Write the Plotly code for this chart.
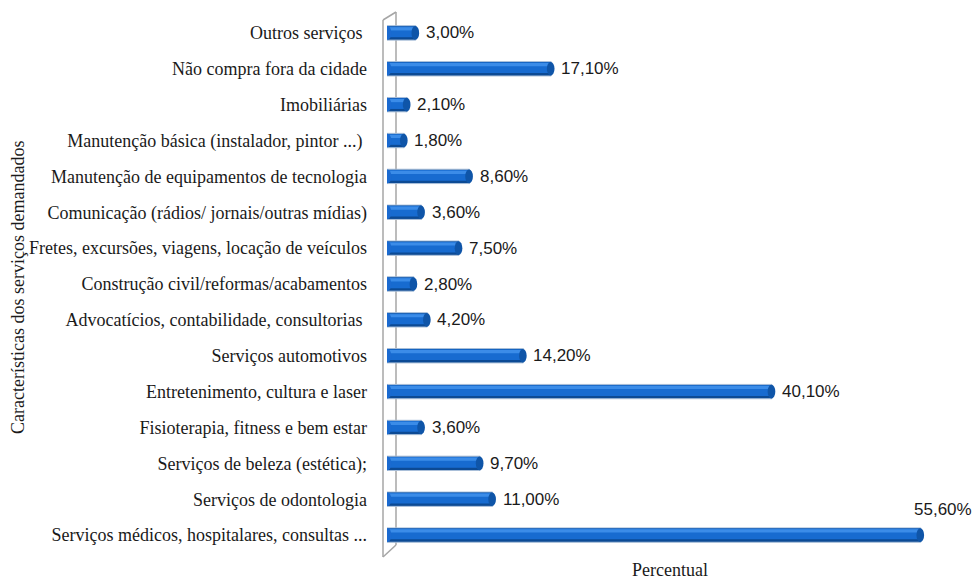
import plotly.graph_objects as go

# Service categories (bottom to top) and their share of respondents (%)
categorias = [
    "Serviços médicos, hospitalares, consultas ...",
    "Serviços de odontologia",
    "Serviços de beleza (estética);",
    "Fisioterapia, fitness e bem estar",
    "Entretenimento, cultura e laser",
    "Serviços automotivos",
    "Advocatícios, contabilidade, consultorias\u00a0",
    "Construção civil/reformas/acabamentos",
    "Fretes, excursões, viagens, locação de veículos",
    "Comunicação (rádios/ jornais/outras mídias)",
    "Manutenção de equipamentos de tecnologia",
    "Manutenção básica (instalador, pintor ...)\u00a0",
    "Imobiliárias",
    "Não compra fora da cidade",
    "Outros serviços\u00a0",
]
percentuais = [55.6, 11.0, 9.7, 3.6, 40.1, 14.2, 4.2, 2.8, 7.5, 3.6, 8.6, 1.8, 2.1, 17.1, 3.0]
rotulos = [f"{v:.2f}".replace(".", ",") + "%" for v in percentuais]

SERIF = "'Liberation Serif', 'Times New Roman', serif"
SANS = "'Liberation Sans', Arial, sans-serif"

W, H = 975, 579
ML, MR, MT, MB = 387, 0, 15, 26
pw, ph = W - ML - MR, H - MT - MB
x_max = pw / 9.6  # about 9.6 px per percentage point

ypos = list(range(len(categorias)))
fig = go.Figure()

# cylinder-like bar: dark base, main body, light highlight
camadas = [
    (0.40, -0.20, "#0c4a94", dict(color="#a9bfd9", width=1)),
    (0.30, -0.12, "#176bd0", dict(width=0)),
    (0.09, 0.07, "#3b8ce8", dict(width=0)),
]
for largura, desloc, cor, linha in camadas:
    fig.add_trace(go.Bar(
        x=percentuais, y=ypos, orientation="h", width=largura, offset=desloc,
        marker=dict(color=cor, line=linha), hoverinfo="skip", showlegend=False,
    ))

# rounded caps at bar ends
shapes = []
for v, y in zip(percentuais, ypos):
    shapes.append(dict(type="circle", xref="x", yref="y",
                       x0=v - 0.45, x1=v + 0.35, y0=y - 0.19, y1=y + 0.19,
                       fillcolor="#0f55a8", line=dict(width=0), layer="above"))
    shapes.append(dict(type="circle", xref="x", yref="y",
                       x0=-0.35, x1=0.45, y0=y - 0.19, y1=y + 0.19,
                       fillcolor="#1a6ad0", line=dict(width=0), layer="above"))


def px_x(p):
    return (p - ML) / pw


def px_y(p):
    return (H - MB - p) / ph


# 3D side wall of the category axis
cinza = dict(color="#a6a6a6", width=1.5)
for (x0, y0, x1, y1) in [(383, 20, 383, 557), (396, 12, 396, 545),
                         (383, 20, 396, 12), (383, 557, 396, 545)]:
    shapes.append(dict(type="line", xref="paper", yref="paper",
                       x0=px_x(x0), y0=px_y(y0), x1=px_x(x1), y1=px_y(y1),
                       line=cinza, layer="below"))

annotations = []
for v, y, t in zip(percentuais, ypos, rotulos):
    if v > 50:
        annotations.append(dict(x=v, y=y, xref="x", yref="y", text=t, showarrow=False,
                                xanchor="left", xshift=-9, yshift=26,
                                font=dict(family=SANS, size=17, color="#1a1a1a")))
    else:
        annotations.append(dict(x=v, y=y, xref="x", yref="y", text=t, showarrow=False,
                                xanchor="left", xshift=8,
                                font=dict(family=SANS, size=17, color="#1a1a1a")))

annotations.append(dict(x=px_x(670), y=px_y(570), xref="paper", yref="paper",
                        text="Percentual", showarrow=False,
                        xanchor="center", yanchor="middle",
                        font=dict(family=SERIF, size=18, color="#1a1a1a")))
annotations.append(dict(x=px_x(18), y=px_y(288), xref="paper", yref="paper",
                        text="Características dos serviços demandados", showarrow=False,
                        textangle=-90, xanchor="center", yanchor="middle",
                        font=dict(family=SERIF, size=18, color="#1a1a1a")))

fig.update_layout(
    width=W, height=H,
    margin=dict(l=ML, r=MR, t=MT, b=MB),
    paper_bgcolor="white", plot_bgcolor="white",
    barmode="overlay",
    xaxis=dict(range=[0, x_max], visible=False),
    yaxis=dict(range=[-0.5, len(categorias) - 0.5], tickmode="array",
               tickvals=ypos, ticktext=categorias, showgrid=False, zeroline=False,
               showline=False, ticks="", ticklabelstandoff=19,
               tickfont=dict(family=SERIF, size=18, color="#1a1a1a")),
    shapes=shapes,
    annotations=annotations,
)

fig.write_html("out.html")
